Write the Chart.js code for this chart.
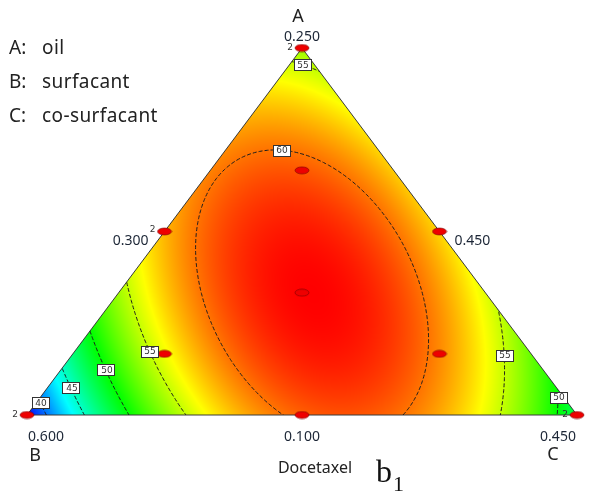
<!DOCTYPE html>
<html>
<head>
<meta charset="utf-8">
<script src="https://cdn.jsdelivr.net/npm/chart.js@4/dist/chart.umd.min.js"></script>
<style>
  html, body { margin: 0; padding: 0; background: #fff; }
  #wrap { width: 589px; height: 497px; position: relative; }
  canvas { display: block; }
</style>
</head>
<body>
<div id="wrap"><canvas id="chart" width="589" height="497"></canvas></div>
<script>
// ---- Mixture components and their ranges ----
const componentKeys = ['A', 'B', 'C'];
const componentNames = ['oil', 'surfacant', 'co-surfacant'];
const vertexTicks = ['0.250', '0.600', '0.450'];       // high level of A, B, C at their vertex
const edgeTicks = ['0.100', '0.300', '0.450'];         // low level of A (base), C (left side), B (right side)
const responseName = 'Docetaxel';

// ---- Fitted Scheffé quadratic model (pseudo-components) ----
// Y = bA*A + bB*B + bC*C + bAB*A*B + bAC*A*C + bBC*B*C
const linearCoef = [53.8, 37.2, 47.9];        // A, B, C
const interactionCoef = [51.0, 26.5, 71.6];   // AB, AC, BC
const contourLevels = [40, 45, 50, 55, 60];

// ---- Design points (pseudo-component fractions) and replicate counts ----
const designA = [1, 0, 0, 0.5, 0.5, 0, 1/3, 2/3, 1/6, 1/6];
const designB = [0, 1, 0, 0.5, 0, 0.5, 1/3, 1/6, 2/3, 1/6];
const designC = [0, 0, 1, 0, 0.5, 0.5, 1/3, 1/6, 1/6, 2/3];
const replicates = [2, 2, 2, 2, 1, 1, 1, 1, 1, 1];

// ---- Contour label anchors: level + row (height fraction) or column ----
const labelLevels = [60, 55, 55, 50, 45, 40, 55, 50];
const labelRows   = [null, null, 0.174, 0.123, 0.0736, 0.034, 0.163, 0.049];
const labelCols   = [0.4627, 0.5, null, null, null, null, null, null];
const labelFrom   = ['top', 'top', 'left', 'left', 'left', 'left', 'right', 'right'];

// colour ramp of the response surface (low -> high)
const rampStops = [
  [0.00, [0, 0, 255]],
  [0.25, [0, 255, 255]],
  [0.50, [0, 255, 0]],
  [0.75, [255, 255, 0]],
  [1.00, [255, 0, 0]]
];

function response(a, b, c) {
  return linearCoef[0] * a + linearCoef[1] * b + linearCoef[2] * c +
         interactionCoef[0] * a * b + interactionCoef[1] * a * c + interactionCoef[2] * b * c;
}
// plane coordinates: x runs B -> C along the base, y runs base -> A
function toPlane(a, b, c) { return { x: c + a / 2, y: a }; }
function valueAt(x, y) { const a = y, c = x - y / 2, b = 1 - a - c; return response(a, b, c); }
function inside(x, y) { const a = y, c = x - y / 2, b = 1 - a - c; return a >= -1e-9 && b >= -1e-9 && c >= -1e-9; }

// range of the surface over the simplex
let vMin = Infinity, vMax = -Infinity;
for (let i = 0; i <= 200; i++) {
  for (let j = 0; j <= 200 - i; j++) {
    const a = i / 200, b = j / 200, c = 1 - a - b;
    const v = response(a, b, c);
    if (v < vMin) vMin = v;
    if (v > vMax) vMax = v;
  }
}

function rampColour(v) {
  let t = (v - vMin) / (vMax - vMin);
  t = Math.max(0, Math.min(1, t));
  for (let k = 1; k < rampStops.length; k++) {
    if (t <= rampStops[k][0]) {
      const [t0, c0] = rampStops[k - 1], [t1, c1] = rampStops[k];
      const u = (t - t0) / (t1 - t0);
      return [0, 1, 2].map(m => Math.round(c0[m] + (c1[m] - c0[m]) * u));
    }
  }
  return rampStops[rampStops.length - 1][1];
}

// ---- marching squares with segment chaining ----
function contourPaths(level, N) {
  const lo = -0.03, span = 1.06;
  const gx = i => lo + span * i / N;
  const vals = new Float64Array((N + 1) * (N + 1));
  for (let j = 0; j <= N; j++) for (let i = 0; i <= N; i++) vals[j * (N + 1) + i] = valueAt(gx(i), gx(j)) - level;
  const V = (i, j) => vals[j * (N + 1) + i];
  const pts = new Map();
  const edgePoint = (key, i0, j0, i1, j1) => {
    if (!pts.has(key)) {
      const v0 = V(i0, j0), v1 = V(i1, j1), u = v0 / (v0 - v1);
      pts.set(key, [gx(i0) + (gx(i1) - gx(i0)) * u, gx(j0) + (gx(j1) - gx(j0)) * u]);
    }
    return key;
  };
  const segs = [];
  for (let j = 0; j < N; j++) {
    for (let i = 0; i < N; i++) {
      const c = [V(i, j), V(i + 1, j), V(i + 1, j + 1), V(i, j + 1)];
      const s = c.map(v => v > 0 ? 1 : 0);
      const e = [];
      const edgeDefs = [
        ['h' + i + ',' + j, i, j, i + 1, j],
        ['v' + (i + 1) + ',' + j, i + 1, j, i + 1, j + 1],
        ['h' + i + ',' + (j + 1), i + 1, j + 1, i, j + 1],
        ['v' + i + ',' + j, i, j + 1, i, j]
      ];
      for (let k = 0; k < 4; k++) {
        if (s[k] !== s[(k + 1) % 4]) e.push(k);
      }
      if (e.length === 2) {
        segs.push([edgePoint(...edgeDefs[e[0]]), edgePoint(...edgeDefs[e[1]])]);
      } else if (e.length === 4) {
        const centre = (c[0] + c[1] + c[2] + c[3]) / 4 > 0 ? 1 : 0;
        const k = edgeDefs.map(d => edgePoint(...d));
        if (centre === s[0]) { segs.push([k[0], k[1]]); segs.push([k[2], k[3]]); }
        else { segs.push([k[3], k[0]]); segs.push([k[1], k[2]]); }
      }
    }
  }
  const adj = new Map();
  segs.forEach((sg, idx) => sg.forEach(k => { if (!adj.has(k)) adj.set(k, []); adj.get(k).push(idx); }));
  const used = new Array(segs.length).fill(false);
  const paths = [];
  for (let s = 0; s < segs.length; s++) {
    if (used[s]) continue;
    used[s] = true;
    const chain = [segs[s][0], segs[s][1]];
    for (let pass = 0; pass < 2; pass++) {
      for (;;) {
        const end = chain[chain.length - 1];
        const next = (adj.get(end) || []).find(t => !used[t]);
        if (next === undefined) break;
        used[next] = true;
        const sg = segs[next];
        chain.push(sg[0] === end ? sg[1] : sg[0]);
      }
      chain.reverse();
    }
    paths.push(chain.map(k => pts.get(k)));
  }
  return paths;
}

// locate the point of a contour level along a row (constant height) or a column
function findLevelPoint(level, row, col, from) {
  const steps = 600;
  let p0, p1;
  const bisect = (f) => {
    for (let it = 0; it < 40; it++) { const m = (p0 + p1) / 2; if (Math.sign(f(m)) === Math.sign(f(p0))) p0 = m; else p1 = m; }
    return (p0 + p1) / 2;
  };
  if (row !== null) {
    const xl = row / 2, xr = 1 - row / 2;
    const f = t => valueAt(t, row) - level;
    const ts = [];
    for (let k = 0; k <= steps; k++) ts.push(from === 'left' ? xl + (xr - xl) * k / steps : xr - (xr - xl) * k / steps);
    for (let k = 1; k < ts.length; k++) {
      if (Math.sign(f(ts[k - 1])) !== Math.sign(f(ts[k]))) { p0 = ts[k - 1]; p1 = ts[k]; break; }
    }
    if (p0 === undefined) return null;
    return { x: bisect(f), y: row };
  }
  const top = col <= 0.5 ? 2 * col : 2 * (1 - col);
  const f = t => valueAt(col, t) - level;
  const ts = [];
  for (let k = 0; k <= steps; k++) ts.push(top - top * k / steps);
  for (let k = 1; k < ts.length; k++) {
    if (Math.sign(f(ts[k - 1])) !== Math.sign(f(ts[k]))) { p0 = ts[k - 1]; p1 = ts[k]; break; }
  }
  if (p0 === undefined) return null;
  return { x: col, y: bisect(f) };
}

// marker used for the design points
function makeMarker() {
  const cv = document.createElement('canvas');
  cv.width = 16; cv.height = 9;
  const g = cv.getContext('2d');
  g.beginPath();
  g.ellipse(8, 4.5, 7, 3.5, 0, 0, Math.PI * 2);
  g.fillStyle = '#ee0000';
  g.fill();
  g.lineWidth = 0.8;
  g.strokeStyle = 'rgba(120,0,0,0.75)';
  g.stroke();
  return cv;
}

const designData = designA.map((a, i) => toPlane(a, designB[i], designC[i]));

const datasets = [{
  type: 'scatter',
  label: 'design points',
  data: designData,
  pointStyle: makeMarker(),
  pointRadius: 6,
  clip: false
}];

contourLevels.forEach(level => {
  contourPaths(level, 220).forEach(path => {
    datasets.push({
      type: 'scatter',
      label: 'contour ' + level,
      isContour: true,
      showLine: true,
      data: path.map(([x, y]) => ({ x, y })),
      borderColor: '#1e1e1e',
      borderWidth: 1,
      borderDash: [4, 2],
      pointRadius: 0,
      tension: 0
    });
  });
});

function px(chart, x, y) {
  return [chart.scales.x.getPixelForValue(x), chart.scales.y.getPixelForValue(y)];
}
function trianglePath(chart, ctx) {
  const A = px(chart, 0.5, 1), B = px(chart, 0, 0), C = px(chart, 1, 0);
  ctx.beginPath();
  ctx.moveTo(A[0], A[1]); ctx.lineTo(B[0], B[1]); ctx.lineTo(C[0], C[1]); ctx.closePath();
}

const ternaryPlugin = {
  id: 'ternary',
  beforeDatasetsDraw(chart) {
    const { ctx, chartArea: ca, scales: { x: xs, y: ys } } = chart;
    const x0 = Math.floor(ca.left), y0 = Math.floor(ca.top);
    const w = Math.ceil(ca.right) - x0 + 1, h = Math.ceil(ca.bottom) - y0 + 1;
    const img = ctx.createImageData(w, h);
    for (let j = 0; j < h; j++) {
      const Y = ys.getValueForPixel(y0 + j + 0.5);
      for (let i = 0; i < w; i++) {
        const X = xs.getValueForPixel(x0 + i + 0.5);
        if (!inside(X, Y)) continue;
        const col = rampColour(valueAt(X, Y));
        const o = (j * w + i) * 4;
        img.data[o] = col[0]; img.data[o + 1] = col[1]; img.data[o + 2] = col[2]; img.data[o + 3] = 255;
      }
    }
    ctx.putImageData(img, x0, y0);
    ctx.save();
    trianglePath(chart, ctx);
    ctx.lineWidth = 1;
    ctx.strokeStyle = '#3a3a3a';
    ctx.stroke();
    ctx.restore();
  },
  beforeDatasetDraw(chart, args) {
    if (chart.data.datasets[args.index].isContour) {
      chart.ctx.save();
      trianglePath(chart, chart.ctx);
      chart.ctx.clip();
    }
  },
  afterDatasetDraw(chart, args) {
    if (chart.data.datasets[args.index].isContour) chart.ctx.restore();
  },
  afterDatasetsDraw(chart) {
    const ctx = chart.ctx;
    ctx.save();
    ctx.font = '9px "DejaVu Sans", sans-serif';
    ctx.textAlign = 'center';
    ctx.textBaseline = 'middle';
    labelLevels.forEach((level, k) => {
      const p = findLevelPoint(level, labelRows[k], labelCols[k], labelFrom[k]);
      if (!p) return;
      const [cx, cy] = px(chart, p.x, p.y);
      const w = 17, h = 11;
      ctx.fillStyle = '#ffffff';
      ctx.fillRect(Math.round(cx - w / 2) + 0.5, Math.round(cy - h / 2) + 0.5, w, h);
      ctx.strokeStyle = '#333';
      ctx.lineWidth = 1;
      ctx.strokeRect(Math.round(cx - w / 2) + 0.5, Math.round(cy - h / 2) + 0.5, w, h);
      ctx.fillStyle = '#333';
      ctx.fillText(String(level), Math.round(cx) + 1, Math.round(cy) + 1);
    });
    // replicate counts next to design points
    ctx.fillStyle = '#333';
    designData.forEach((d, i) => {
      if (replicates[i] > 1) {
        const [cx, cy] = px(chart, d.x, d.y);
        ctx.fillText(String(replicates[i]), cx - 12, cy - (d.y > 0 && d.y < 1 ? 2 : 0));
      }
    });
    ctx.restore();
  },
  afterDraw(chart) {
    const ctx = chart.ctx;
    const A = px(chart, 0.5, 1), B = px(chart, 0, 0), C = px(chart, 1, 0);
    const L = px(chart, 0.25, 0.5), R = px(chart, 0.75, 0.5), M = px(chart, 0.5, 0);
    ctx.save();
    // component legend
    ctx.fillStyle = '#222';
    ctx.font = '19px "Noto Sans", sans-serif';
    ctx.textAlign = 'left';
    ctx.textBaseline = 'alphabetic';
    componentKeys.forEach((key, i) => {
      const base = 54 + 34 * i;
      ctx.letterSpacing = '0px';
      ctx.fillText(key + ':', 9, base);
      ctx.letterSpacing = '0.4px';
      ctx.fillText(componentNames[i], 42, base);
    });
    ctx.letterSpacing = '0px';
    ctx.textBaseline = 'middle';
    // vertex letters
    ctx.font = '18px "Noto Sans", sans-serif';
    ctx.textAlign = 'center';
    ctx.fillText(componentKeys[0], A[0] - 4, A[1] - 31);
    ctx.fillText(componentKeys[1], B[0] + 8, B[1] + 41);
    ctx.fillText(componentKeys[2], C[0] - 24, C[1] + 40);
    // range ticks
    ctx.fillStyle = '#1c2636';
    ctx.font = '14px "Noto Sans", sans-serif';
    ctx.fillText(vertexTicks[0], A[0], A[1] - 11);
    ctx.fillText(vertexTicks[1], B[0] + 19, B[1] + 22);
    ctx.fillText(vertexTicks[2], C[0] - 19, C[1] + 22);
    ctx.fillText(edgeTicks[0], M[0], M[1] + 22);
    ctx.textAlign = 'right';
    ctx.fillText(edgeTicks[1], L[0] - 16, L[1] + 10);
    ctx.textAlign = 'left';
    ctx.fillText(edgeTicks[2], R[0] + 15, R[1] + 10);
    // response title
    ctx.fillStyle = '#222';
    ctx.font = '16px "Noto Sans", sans-serif';
    ctx.textAlign = 'center';
    ctx.fillText(responseName, M[0] + 13, M[1] + 53);
    ctx.textAlign = 'left';
    ctx.textBaseline = 'alphabetic';
    ctx.fillStyle = '#111';
    ctx.font = '32px "Liberation Serif", serif';
    ctx.fillText('b', 376, 482);
    ctx.font = '22px "Liberation Serif", serif';
    ctx.fillText('1', 393, 491);
    ctx.restore();
  }
};

new Chart(document.getElementById('chart'), {
  type: 'scatter',
  data: { datasets },
  options: {
    responsive: false,
    devicePixelRatio: 1,
    animation: false,
    events: [],
    layout: { padding: { left: 27, right: 12, top: 48, bottom: 82 } },
    plugins: { legend: { display: false }, tooltip: { enabled: false }, title: { display: false } },
    scales: {
      x: { type: 'linear', min: 0, max: 1, display: false },
      y: { type: 'linear', min: 0, max: 1, display: false }
    }
  },
  plugins: [ternaryPlugin]
});
</script>
</body>
</html>
